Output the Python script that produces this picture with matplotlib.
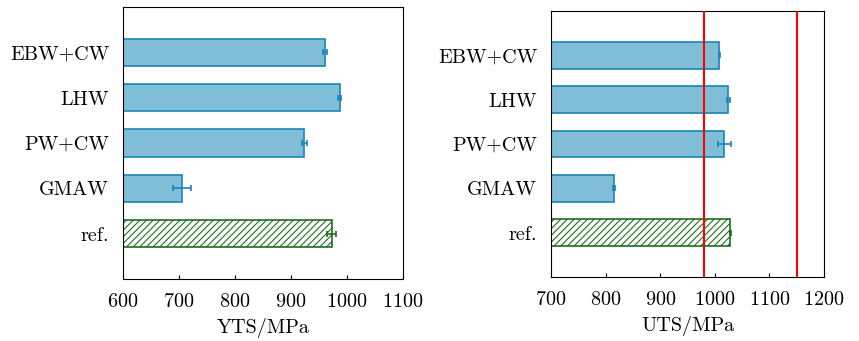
import numpy as np
import matplotlib
matplotlib.use("Agg")
import matplotlib.pyplot as plt

plt.rcParams['font.family'] = 'serif'
plt.rcParams['font.serif'] = ['cmr10', 'DejaVu Serif']
plt.rcParams['mathtext.fontset'] = 'cm'
plt.rcParams['axes.formatter.use_mathtext'] = True
plt.rcParams['hatch.linewidth'] = 0.8

# data
labels = ['EBW+CW', 'LHW', 'PW+CW', 'GMAW', 'ref.']
yts     = [961, 987, 924, 706, 973]
yts_err = [4, 3, 4, 16, 8]
uts     = [1008, 1025, 1017, 815, 1028]
uts_err = [1, 3, 12, 2, 1]
uts_limits = [980, 1150]

blue_face = '#80bdd7'
blue_edge = '#1a85b7'
green = '#1e6e1e'

fig = plt.figure(figsize=(8.59, 3.41), dpi=100)
ax1 = fig.add_axes([123/859, 1-279/341, 280/859, 272/341])
ax2 = fig.add_axes([551/859, 1-277/341, 273/859, 266/341])

def draw(ax, vals, errs, xlim, xlabel):
    ypos = np.arange(len(labels))
    for i, (v, e) in enumerate(zip(vals, errs)):
        if labels[i] == 'ref.':
            ax.barh(ypos[i], v - xlim[0], left=xlim[0], height=0.6,
                    facecolor='white', edgecolor=green, hatch='/////',
                    linewidth=1.2, zorder=2)
            c = green
        else:
            ax.barh(ypos[i], v - xlim[0], left=xlim[0], height=0.6,
                    facecolor=blue_face, edgecolor=blue_edge, linewidth=1.2,
                    zorder=2)
            c = blue_edge
        ax.errorbar(v, ypos[i], xerr=e, color=c, capsize=2.5, elinewidth=1.2,
                    capthick=1.2, zorder=3)
    ax.set_xlim(*xlim)
    ax.set_ylim(len(labels), -1)
    ax.set_yticks(ypos)
    ax.set_yticklabels(labels)
    ax.set_xticks(np.arange(xlim[0], xlim[1] + 1, 100))
    ax.tick_params(axis='y', length=0, pad=10, labelsize=14.5)
    ax.tick_params(axis='x', direction='in', length=3, labelsize=14.5, pad=10)
    ax.set_xlabel(xlabel, fontsize=14.5, labelpad=5)

draw(ax1, yts, yts_err, (600, 1100), 'YTS/MPa')
draw(ax2, uts, uts_err, (700, 1200), 'UTS/MPa')
for x in uts_limits:
    ax2.axvline(x, color='red', linewidth=1.5, zorder=4)

fig.savefig('out.png', dpi=100)
